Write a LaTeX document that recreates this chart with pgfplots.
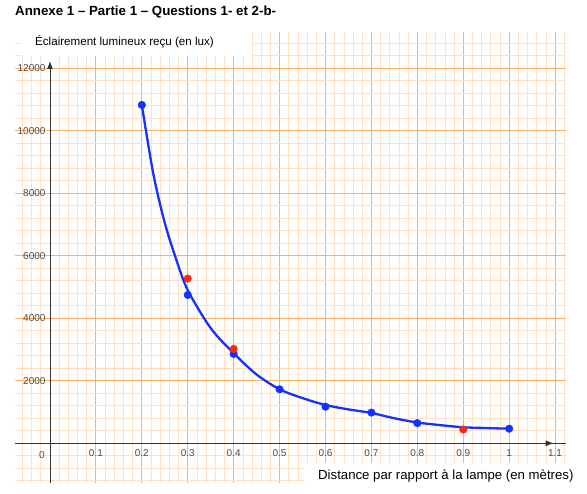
\documentclass[border=0pt]{standalone}
\usepackage{fontspec}
\setmainfont{Liberation Sans}
\usepackage{pgfplots}
\pgfplotsset{compat=1.18}
\usetikzlibrary{arrows.meta}
\definecolor{gridmaj}{RGB}{255,178,102}
\definecolor{gridmin}{RGB}{255,226,198}
\definecolor{ptblue}{RGB}{20,50,255}
\definecolor{ptred}{RGB}{255,40,10}
\definecolor{ticklbl}{RGB}{75,75,75}
\definecolor{axline}{RGB}{50,50,50}

\begin{document}
\begin{tikzpicture}
\useasboundingbox (0pt,0pt) rectangle (587pt,494pt);
\begin{axis}[at={(50pt,50.7pt)},anchor=origin,scale only axis,width=551pt,height=451pt,
  xmin=-0.076,xmax=1.124,ymin=-1280,ymax=13150,
  axis lines=middle,axis line style={draw=none},
  xtick={0.1,0.2,0.3,0.4,0.5,0.6,0.7,0.8,0.9,1,1.1},
  ytick={2000,4000,6000,8000,10000,12000},
  minor xtick={-0.06,-0.04,-0.02,0.02,0.04,0.06,0.08,0.12,0.14,0.16,0.18,0.22,0.24,0.26,0.28,0.32,0.34,0.36,0.38,0.42,0.44,0.46,0.48,0.52,0.54,0.56,0.58,0.62,0.64,0.66,0.68,0.72,0.74,0.76,0.78,0.82,0.84,0.86,0.88,0.92,0.94,0.96,0.98,1.02,1.04,1.06,1.08,1.12},
  minor ytick={-1200,-800,-400,400,800,1200,1600,2400,2800,3200,3600,4400,4800,5200,5600,6400,6800,7200,7600,8400,8800,9200,9600,10400,10800,11200,11600,12400,12800},
  grid=both,
  major grid style={gridmaj,line width=1.1pt},
  minor grid style={gridmin,line width=0.7pt},
  major tick length=0pt,minor tick length=0pt,
  scaled y ticks=false,
  /pgf/number format/1000 sep={},
  /pgf/number format/assume math mode=true,
  tick label style={font=\fontsize{10}{12}\selectfont,text=ticklbl},
  xticklabel style={yshift=-3pt},
  yticklabel style={xshift=-1pt},
  clip=false]
% courbe lissee
\addplot[ptblue,line width=2.3pt,smooth,tension=0.5,no marks] coordinates {
  (0.2,10826) (0.225,8620) (0.25,7050) (0.275,5880) (0.3,4900) (0.35,3685)
  (0.4,2880) (0.45,2200) (0.5,1728) (0.55,1445) (0.6,1226) (0.65,1085)
  (0.7,970) (0.75,800) (0.8,665) (0.85,581) (0.9,512) (0.95,488) (1.0,467)};
% mesures
\addplot[only marks,mark=*,mark size=3.8pt,ptblue] coordinates {(0.2,10826) (0.3,4746) (0.4,2858) (0.5,1728) (0.6,1171) (0.7,982) (0.8,645) (1.0,467)};
\addplot[only marks,mark=*,mark size=3.8pt,ptred] coordinates {(0.3,5270) (0.4,3018) (0.9,440)};
\draw[axline,line width=1pt] (axis cs:-0.076,0) -- (axis cs:1.124,0);
\draw[axline,line width=1pt,-{Latex[length=8pt,width=6pt]}] (axis cs:1.0,0) -- (axis cs:1.097,0);
\draw[axline,line width=1pt,-{Latex[length=8pt,width=6pt]}] (axis cs:0,-1280) -- (axis cs:0,12234);
\end{axis}
\node[anchor=base west,font=\bfseries\fontsize{13.3}{15}\selectfont,inner sep=0pt] at (15pt,478pt) {Annexe 1 – Partie 1 – Questions 1- et 2-b-};
\fill[white] (22pt,438pt) rectangle (252pt,466pt);
\node[anchor=base west,font=\fontsize{11.6}{14}\selectfont,inner sep=0pt] at (35pt,448pt) {Éclairement lumineux reçu (en lux)};
\fill[white] (305pt,0pt) rectangle (587pt,31pt);
\node[anchor=base west,font=\fontsize{13.2}{15}\selectfont,inner sep=0pt] at (318pt,14pt) {Distance par rapport à la lampe (en mètres)};
\node[anchor=center,font=\fontsize{10}{12}\selectfont,text=ticklbl] at (42pt,39pt) {0};
\end{tikzpicture}
\end{document}
